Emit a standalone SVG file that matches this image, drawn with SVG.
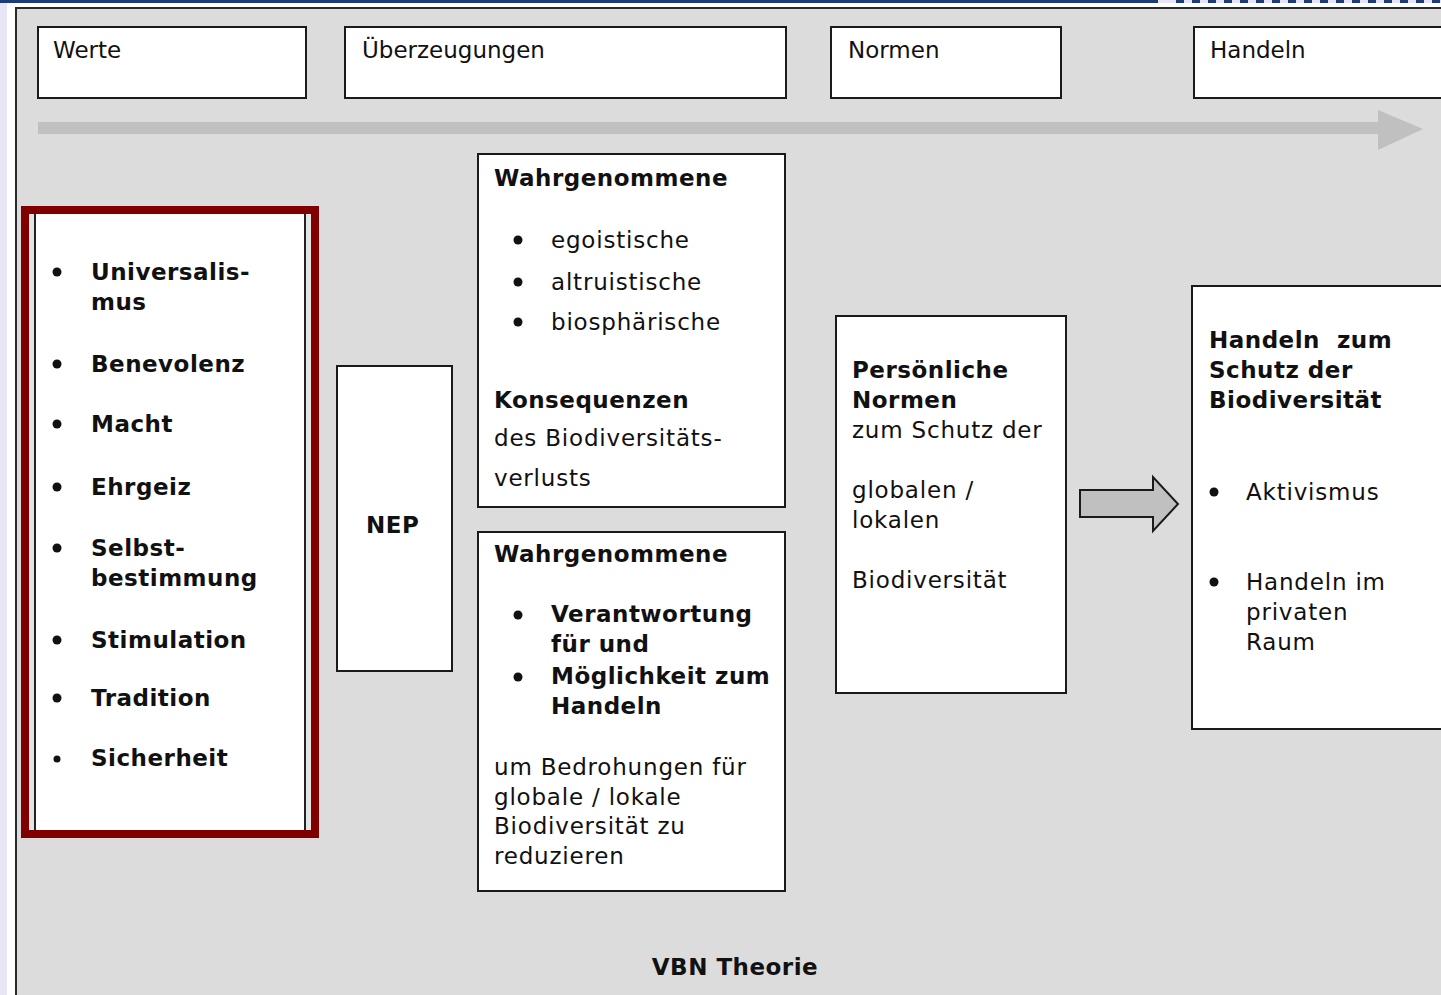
<svg xmlns="http://www.w3.org/2000/svg" width="1441" height="995" viewBox="0 0 1441 995">
  <style>
    .box { fill: #ffffff; stroke: #1a1a1a; stroke-width: 2; }
    .h { font-family: "DejaVu Sans", "Liberation Sans", sans-serif; font-size: 23px; fill: #111111; }
    .t { font-family: "DejaVu Sans", "Liberation Sans", sans-serif; font-size: 23px; fill: #111111; letter-spacing: 0.8px; }
    .b { font-family: "DejaVu Sans", "Liberation Sans", sans-serif; font-size: 23px; font-weight: bold; fill: #111111; letter-spacing: 0.5px; }
    .dot { fill: #111111; }
  </style>

  <!-- page frame -->
  <rect x="0" y="0" width="1441" height="995" fill="#ffffff"/>
  <rect x="0" y="0" width="7" height="995" fill="#e6e6f6"/>
  <rect x="0" y="0" width="1158" height="3" fill="#1f3a78"/>
  <rect x="1158" y="0" width="283" height="3" fill="#e6e6f6"/>
  <line x1="1176" y1="1.5" x2="1441" y2="1.5" stroke="#1f3a78" stroke-width="3" stroke-dasharray="8 8"/>
  <rect x="16" y="8" width="1440" height="1000" fill="#dcdcdc" stroke="#2a2a2a" stroke-width="2"/>

  <!-- stage headers -->
  <g id="werte"><rect class="box" x="38" y="27" width="268" height="71"/><text class="h" x="53" y="58">Werte</text></g>
  <g id="ueberzeugungen"><rect class="box" x="345" y="27" width="441" height="71"/><text class="h" x="362" y="58">Überzeugungen</text></g>
  <g id="normen"><rect class="box" x="831" y="27" width="230" height="71"/><text class="h" x="848" y="58">Normen</text></g>
  <g id="handeln"><rect class="box" x="1194" y="27" width="260" height="71"/><text class="h" x="1210" y="58">Handeln</text></g>

  <!-- timeline arrow -->
  <g id="timeline">
    <rect x="38" y="122" width="1342" height="12" fill="#c0c0c0"/>
    <polygon points="1378,110 1423,129 1378,150" fill="#c0c0c0"/>
  </g>

  <!-- value list, highlighted -->
  <g id="werte-liste">
    <rect x="25" y="210" width="290" height="624" fill="#e4e4e4" stroke="#800000" stroke-width="8"/>
    <rect x="35" y="214" width="270" height="616" fill="#ffffff"/>
    <line x1="35" y1="214" x2="35" y2="830" stroke="#222" stroke-width="2"/>
    <line x1="305" y1="214" x2="305" y2="830" stroke="#222" stroke-width="2"/>
    <circle class="dot" cx="57" cy="272" r="4.5"/>
    <text class="b" x="91" y="280">Universalis-</text>
    <text class="b" x="91" y="310">mus</text>
    <circle class="dot" cx="57" cy="364" r="4.5"/>
    <text class="b" x="91" y="372">Benevolenz</text>
    <circle class="dot" cx="57" cy="424" r="4.5"/>
    <text class="b" x="91" y="432">Macht</text>
    <circle class="dot" cx="57" cy="487" r="4.5"/>
    <text class="b" x="91" y="495">Ehrgeiz</text>
    <circle class="dot" cx="57" cy="548" r="4.5"/>
    <text class="b" x="91" y="556">Selbst-</text>
    <text class="b" x="91" y="586">bestimmung</text>
    <circle class="dot" cx="57" cy="640" r="4.5"/>
    <text class="b" x="91" y="648">Stimulation</text>
    <circle class="dot" cx="57" cy="698" r="4.5"/>
    <text class="b" x="91" y="706">Tradition</text>
    <circle class="dot" cx="57" cy="759" r="3.5"/>
    <text class="b" x="91" y="766">Sicherheit</text>
  </g>

  <!-- NEP -->
  <g id="nep">
    <rect class="box" x="337" y="366" width="115" height="305"/>
    <text class="b" x="366" y="533">NEP</text>
  </g>

  <!-- perceived consequences -->
  <g id="konsequenzen">
    <rect class="box" x="478" y="154" width="307" height="353"/>
    <text class="b" x="494" y="186">Wahrgenommene</text>
    <circle class="dot" cx="518" cy="240" r="4.5"/>
    <text class="t" x="551" y="248">egoistische</text>
    <circle class="dot" cx="518" cy="282" r="4.5"/>
    <text class="t" x="551" y="290">altruistische</text>
    <circle class="dot" cx="518" cy="322" r="4.5"/>
    <text class="t" x="551" y="330">biosphärische</text>
    <text class="b" x="494" y="408">Konsequenzen</text>
    <text class="t" x="494" y="446">des Biodiversitäts-</text>
    <text class="t" x="494" y="486">verlusts</text>
  </g>

  <!-- perceived responsibility -->
  <g id="verantwortung">
    <rect class="box" x="478" y="532" width="307" height="359"/>
    <text class="b" x="494" y="562">Wahrgenommene</text>
    <circle class="dot" cx="518" cy="615" r="4.5"/>
    <text class="b" x="551" y="622">Verantwortung</text>
    <text class="b" x="551" y="652">für und</text>
    <circle class="dot" cx="518" cy="677" r="4.5"/>
    <text class="b" x="551" y="684">Möglichkeit zum</text>
    <text class="b" x="551" y="714">Handeln</text>
    <text class="t" x="494" y="775">um Bedrohungen für</text>
    <text class="t" x="494" y="805">globale / lokale</text>
    <text class="t" x="494" y="834">Biodiversität zu</text>
    <text class="t" x="494" y="864">reduzieren</text>
  </g>

  <!-- personal norms -->
  <g id="persoenliche-normen">
    <rect class="box" x="836" y="316" width="230" height="377"/>
    <text class="b" x="852" y="378">Persönliche</text>
    <text class="b" x="852" y="408">Normen</text>
    <text class="t" x="852" y="438">zum Schutz der</text>
    <text class="t" x="852" y="498">globalen /</text>
    <text class="t" x="852" y="528">lokalen</text>
    <text class="t" x="852" y="588">Biodiversität</text>
  </g>

  <!-- norms lead to action -->
  <g id="connectors">
    <polygon points="1080,490 1153,490 1153,477 1178,504 1153,531 1153,517 1080,517" fill="#c0c0c0" stroke="#1a1a1a" stroke-width="2"/>
  </g>

  <!-- protective action -->
  <g id="handeln-schutz">
    <rect class="box" x="1192" y="286" width="262" height="443"/>
    <text class="b" x="1209" y="348" xml:space="preserve">Handeln  zum</text>
    <text class="b" x="1209" y="378">Schutz der</text>
    <text class="b" x="1209" y="408">Biodiversität</text>
    <circle class="dot" cx="1214" cy="492" r="4.5"/>
    <text class="t" x="1246" y="500">Aktivismus</text>
    <circle class="dot" cx="1214" cy="582" r="4.5"/>
    <text class="t" x="1246" y="590">Handeln im</text>
    <text class="t" x="1246" y="620">privaten</text>
    <text class="t" x="1246" y="650">Raum</text>
  </g>

  <text id="titel" class="b" x="735" y="975" text-anchor="middle" font-size="24" letter-spacing="1">VBN Theorie</text>
</svg>
